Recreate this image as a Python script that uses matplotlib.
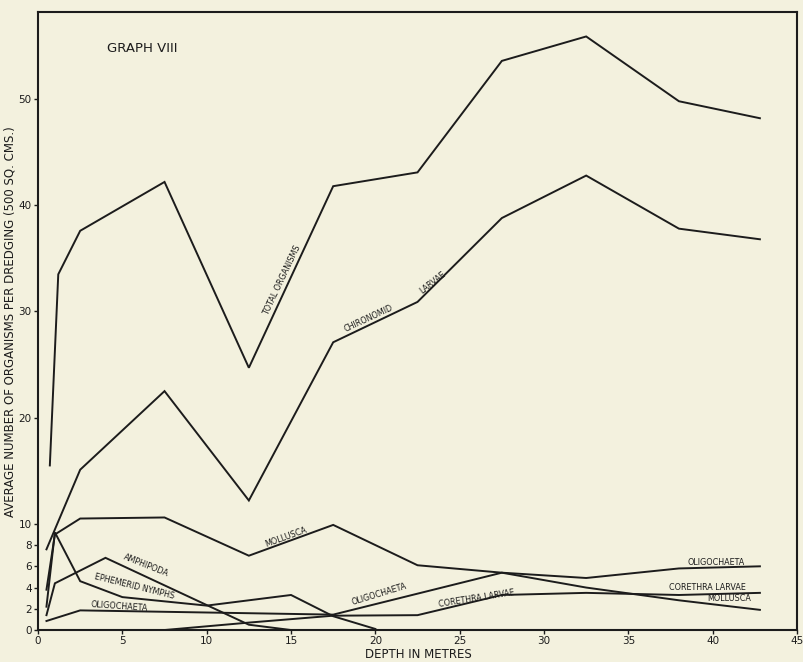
import matplotlib.pyplot as plt

total_depth = [0.7, 1.2, 2.5, 7.5, 12.5, 17.5, 22.5, 27.5, 32.5, 38, 42.8]
total_org = [15.5, 33.5, 37.6, 42.2, 24.7, 41.8, 43.1, 53.6, 55.9, 49.8, 48.2]

chiro_depth = [0.5, 2.5, 7.5, 12.5, 17.5, 22.5, 27.5, 32.5, 38, 42.8]
chironomid = [7.6, 15.1, 22.5, 12.2, 27.1, 30.9, 38.8, 42.8, 37.8, 36.8]

moll_depth = [0.5, 1.0, 2.5, 7.5, 12.5, 17.5, 22.5, 27.5, 32.5, 38, 42.8]
mollusca = [3.8, 9.0, 10.5, 10.6, 7.0, 9.9, 6.1, 5.4, 4.0, 2.8, 1.9]

amph_depth = [0.5, 1.0, 4.0, 12.5, 15.0, 20.0]
amphipoda = [1.4, 4.4, 6.8, 0.5, 0.0, 0.0]

ephem_depth = [0.5, 1.0, 2.5, 5.0, 10.0, 15.0, 17.5, 20.0]
ephemerid = [2.2, 9.2, 4.6, 3.1, 2.3, 3.3, 1.3, 0.1]

olig_depth = [0.5, 2.5, 17.5, 27.5, 32.5, 38, 42.8]
oligochaeta = [0.85, 1.85, 1.45, 5.4, 4.9, 5.8, 6.0]

cor_depth = [7.5, 12.5, 17.5, 22.5, 27.5, 32.5, 38, 42.8]
corethra = [0.0, 0.7, 1.35, 1.4, 3.3, 3.5, 3.3, 3.5]

x_ticks = [0, 5, 10, 15, 20, 25, 30, 35, 40, 45]
y_ticks = [0, 2, 4, 6, 8, 10, 20, 30, 40, 50]

# line labels: text, depth, value, rotation
labels = [
    ('TOTAL ORGANISMS', 14.5, 32.9, 64.7),
    ('CHIRONOMID', 19.6, 29.3, 25),
    ('LARVAE', 23.4, 32.7, 38),
    ('MOLLUSCA', 14.7, 8.7, 20),
    ('AMPHIPODA', 6.4, 6.1, -21.6),
    ('EPHEMERID NYMPHS', 5.7, 4.1, -14),
    ('OLIGOCHAETA', 4.8, 2.2, -4),
    ('OLIGOCHAETA', 20.2, 3.4, 17),
    ('CORETHRA LARVAE', 26.0, 3.0, 9),
    ('OLIGOCHAETA', 40.2, 6.4, 0),
    ('CORETHRA LARVAE', 39.7, 4.05, 0),
    ('MOLLUSCA', 41.0, 3.0, 0),
]

paper = '#f3f1de'
ink = '#1c1c1c'

fig = plt.figure(figsize=(8.04, 6.62), dpi=100, facecolor=paper)
ax = fig.add_axes([0.0473, 0.0483, 0.944, 0.9335], facecolor=paper)

# Plot each group
for xs, ys in [(total_depth, total_org), (chiro_depth, chironomid),
               (moll_depth, mollusca), (amph_depth, amphipoda),
               (ephem_depth, ephemerid), (olig_depth, oligochaeta),
               (cor_depth, corethra)]:
    ax.plot(xs, ys, color=ink, linewidth=1.4, solid_joinstyle='miter')

for text, x, y, rot in labels:
    ax.text(x, y, text, fontsize=5.8, rotation=rot, rotation_mode='anchor',
            ha='center', va='center', color=ink)

ax.text(4.1, 54.8, 'GRAPH VIII', fontsize=9.5, color=ink, va='center')

# Axes, ticks and labels
ax.set_xlim(0, 45)
ax.set_ylim(0, 58.2)
ax.set_xticks(x_ticks)
ax.set_yticks(y_ticks)
ax.tick_params(direction='out', length=3, width=1, labelsize=7.5, colors=ink, pad=1.5)
for spine in ax.spines.values():
    spine.set_linewidth(1.5)
    spine.set_color(ink)

fig.text(10 / 804, 1 - 322 / 662, 'AVERAGE NUMBER OF ORGANISMS PER DREDGING (500 SQ. CMS.)',
         rotation=90, fontsize=8.5, ha='center', va='center', color=ink)
fig.text(418 / 804, 1 - 655 / 662, 'DEPTH IN METRES', fontsize=8.5,
         ha='center', va='center', color=ink)

fig.savefig('out.png', dpi=100, facecolor=paper)
